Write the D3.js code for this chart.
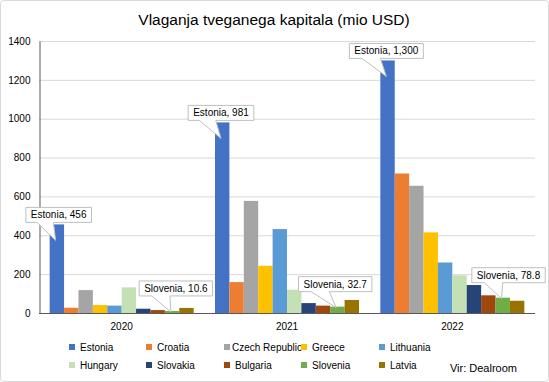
<!DOCTYPE html>
<html><head><meta charset="utf-8">
<script src="https://cdn.jsdelivr.net/npm/d3@7/dist/d3.min.js"></script>
<style>body{margin:0;background:#fff;}svg{display:block;font-family:"Liberation Sans",Arial,sans-serif;}</style>
</head><body>
<svg id="c" width="549" height="382"></svg>
<script>
const years = ["2020", "2021", "2022"];
const countries = ["Estonia","Croatia","Czech Republic","Greece","Lithuania","Hungary","Slovakia","Bulgaria","Slovenia","Latvia"];
const colors = ["#4472C4","#ED7D31","#A5A5A5","#FFC000","#5B9BD5","#C5E0B4","#264478","#9E480E","#70AD47","#997300"];
const v2020 = [456, 27, 118, 41, 38, 132, 22, 15, 10.6, 26];
const v2021 = [981, 159, 577, 243, 432, 120, 51, 38, 32.7, 67];
const v2022 = [1300, 718, 655, 415, 260, 194, 144, 91, 78.8, 63];
const yTicks = [0, 200, 400, 600, 800, 1000, 1200, 1400];
const labelled = ["Estonia", "Slovenia"];
const title = "Vlaganja tveganega kapitala (mio USD)";
const source = "Vir: Dealroom";

const values = [v2020, v2021, v2022];
const svg = d3.select("#c");
const W = 549, H = 382;
svg.append("rect").attr("x",0.5).attr("y",0.5).attr("width",W-1).attr("height",H-1)
  .attr("rx",3).attr("fill","#fff").attr("stroke","#d9d9d9");

const x0 = d3.scaleBand().domain(years).range([39, 535]).paddingInner(0.129).paddingOuter(0.0645);
const x1 = d3.scaleBand().domain(countries).range([0, x0.bandwidth()]);
const y = d3.scaleLinear().domain([0, 1400]).range([313, 41]);
const color = d3.scaleOrdinal().domain(countries).range(colors);

svg.append("text").attr("x", 274).attr("y", 25).attr("text-anchor","middle")
  .attr("font-size", "15.5px").attr("fill","#000").text(title);

// gridlines
svg.append("g").selectAll("line").data(yTicks.filter(d=>d>0)).join("line")
  .attr("x1", 39).attr("x2", 535).attr("y1", d=>y(d)+0.5).attr("y2", d=>y(d)+0.5)
  .attr("stroke","#d9d9d9").attr("stroke-width",1);

// y axis
const ya = svg.append("g").attr("transform","translate(39.5,0)")
  .call(d3.axisLeft(y).tickValues(yTicks).tickSize(0).tickPadding(9).tickFormat(d3.format("d")));
ya.select(".domain").attr("stroke","#595959");
ya.selectAll("text").attr("font-size","10px").attr("fill","#000").attr("font-family","Liberation Sans, Arial, sans-serif");

// bars
const groups = svg.append("g").selectAll("g").data(years).join("g")
  .attr("transform", d=>`translate(${x0(d)},0)`);
groups.selectAll("rect").data((yr,i)=>countries.map((c,j)=>({c, v: values[i][j], yr})))
  .join("rect")
  .attr("x", d=>x1(d.c)).attr("width", x1.bandwidth())
  .attr("y", d=>y(d.v)).attr("height", d=>y(0)-y(d.v))
  .attr("fill", d=>color(d.c));

// x axis
const xa = svg.append("g").attr("transform","translate(0,313.5)")
  .call(d3.axisBottom(x0).tickSize(0).tickPadding(9));
xa.select(".domain").attr("stroke","#595959").attr("d","M39,0H535");
xa.selectAll("text").attr("font-size","10px").attr("fill","#000").attr("font-family","Liberation Sans, Arial, sans-serif");

// callouts
const fmt = v => Number.isInteger(v) ? d3.format(",")(v) : d3.format(".1f")(v);
const callG = svg.append("g");
years.forEach((yr,i)=>{
  labelled.forEach(c=>{
    const j = countries.indexOf(c);
    const v = values[i][j];
    const bx = x0(yr) + x1(c);
    const isTop = c === "Estonia";
    const tipX = bx + 6;
    const tipY = isTop ? y(v) + 16 : y(v) + 1;
    const txt = c + ", " + fmt(v);
    const t = callG.append("text").attr("font-size","10px").attr("fill","#000").text(txt);
    const tw = t.node().getComputedTextLength();
    const w = tw + 10, h = 15;
    let cx = isTop ? tipX + (i===0?3:0) : bx + (i===0?11:(i===1?5:13));
    const bottom = isTop ? tipY - 18 : tipY - 16;
    let left = cx - w/2;
    if (left + w > 547) left = 547 - w;
    const top = bottom - h;
    const b1 = left + 0.17*w, b2 = left + 0.42*w;
    const p = `M${left},${top}H${left+w}V${bottom}H${b2}L${tipX},${tipY}L${b1},${bottom}H${left}Z`;
    callG.insert("path","text").attr("d", p).attr("fill","#fff").attr("stroke","#bfbfbf").attr("stroke-width",1);
    t.attr("x", left + w/2).attr("y", top + 11).attr("text-anchor","middle");
  });
});

// legend
const colX = [72, 149, 227, 304, 382];
const rowY = [347, 365];
const lg = svg.append("g");
countries.forEach((c,k)=>{
  const cx = colX[k%5], ry = rowY[Math.floor(k/5)];
  lg.append("rect").attr("x", cx-3).attr("y", ry-3).attr("width",6).attr("height",6).attr("fill", color(c));
  lg.append("text").attr("x", cx + (c==="Czech Republic"?5:8)).attr("y", ry+3.5).attr("font-size","10px").attr("fill","#000").text(c);
});
svg.append("text").attr("x", 517).attr("y", 372).attr("text-anchor","end").attr("font-size","11px").attr("fill","#000").text(source);
</script>
</body></html>
